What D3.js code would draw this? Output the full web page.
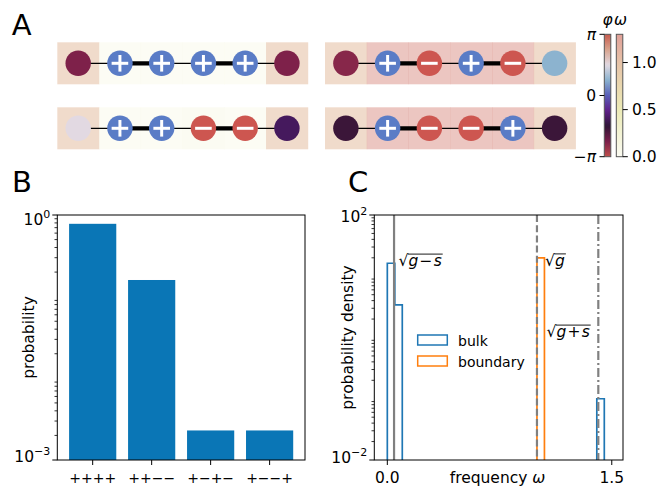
<!DOCTYPE html>
<html><head><meta charset="utf-8">
<script src="https://cdn.jsdelivr.net/npm/d3@7"></script>
<style>body{margin:0;background:#fff} svg text{font-family:"DejaVu Sans",sans-serif;fill:#000}</style>
</head><body><svg id="c" width="665" height="487"></svg>
<script>
// ---------------- DATA ----------------
const chainSigns = [
  ["+","+","+","+"],
  ["+","−","+","−"],
  ["+","+","−","−"],
  ["+","−","−","+"]
];
const boundaryPhase = [[-2.4,-2.4],[-2.5,0.8],[1.57,-1.2],[-1.7,-1.7]];
const siteOmega = [
  [1.0,0.045,0.045,0.045,0.045,1.0],
  [1.0,1.41,1.41,1.41,1.41,1.0],
  [1.0,0.045,0.045,0.07,0.045,1.0],
  [1.0,1.41,1.41,1.41,1.41,1.0]
];
const bondCoupling = [0.25,1,0.25,1,0.25];
const phaseTicks = [-Math.PI,0,Math.PI];
const phaseTickLabels = ["−π","0","π"];
const omegaTicks = [0,0.5,1.0];
const omegaTickLabels = ["0.0","0.5","1.0"];

const configLabels = ["++++","++−−","+−+−","+−−+"];
const configProb = [0.78,0.16,0.0023,0.0023];

const bulkBins = [[0,0.05,16.3],[0.05,0.1,3.4],[1.40,1.45,0.1]];
const boundaryBins = [[1.0,1.05,20]];
const refFreq = [0.045,1.0,1.41];
const freqTicks = [0,1.5];
const freqTickLabels = ["0.0","1.5"];

// ---------------- SETUP ----------------
const svg = d3.select("#c");
const FS = 15.5;

const phaseStopsV = [-1,-0.75,-0.5,-0.25,0,0.25,0.5,0.75,1].map(v=>v*Math.PI);
const phaseStopsC = ["#bf4f4b","#7a1e4a","#2f1436","#5e1f88","#5a5fb8","#8ab2cf","#e2d9e2","#d8a48e","#c65a4c"];
const phaseColor = d3.scaleLinear().domain(phaseStopsV).range(phaseStopsC).interpolate(d3.interpolateRgb);
const omegaColor = d3.scaleLinear().domain([0,0.5,1.0,1.3]).range(["#fbfbf2","#ecebb6","#e6c3a8","#e0a098"]).clamp(true);
const bondW = d3.scaleLinear().domain([0.25,1]).range([1.3,4.3]);

// panel letters
[["A",11.7,35],["B",12,191.7],["C",348,191.7]].forEach(([t,x,y])=>{
  svg.append("text").attr("x",x).attr("y",y).text(t).style("font-size","29px");
});

// ---------------- PANEL A ----------------
const chainLayout = [{x:57.3,y:42.3},{x:325,y:42.3},{x:57.3,y:107.3},{x:325,y:107.3}];
const chainW = 250.5, chainH = 42, R = 12.7;
chainLayout.forEach((p,ci)=>{
  const xs = d3.scaleBand().domain(d3.range(6)).range([p.x,p.x+chainW]);
  const bw = xs.bandwidth();
  const g = svg.append("g");
  g.selectAll("rect").data(siteOmega[ci]).join("rect")
    .attr("x",(d,i)=>xs(i)).attr("y",p.y).attr("width",bw+0.4).attr("height",chainH)
    .attr("fill",d=>omegaColor(d)).attr("fill-opacity",0.6);
  const cy = p.y+chainH/2;
  g.selectAll("line.bond").data(bondCoupling).join("line").attr("class","bond")
    .attr("x1",(d,i)=>xs(i)+bw/2).attr("x2",(d,i)=>xs(i+1)+bw/2)
    .attr("y1",cy).attr("y2",cy).attr("stroke","#000").attr("stroke-width",d=>bondW(d));
  const sites = [{b:true,ph:boundaryPhase[ci][0]}]
    .concat(chainSigns[ci].map(s=>({b:false,s:s})))
    .concat([{b:true,ph:boundaryPhase[ci][1]}]);
  const sg = g.selectAll("g.site").data(sites).join("g").attr("class","site")
    .attr("transform",(d,i)=>`translate(${xs(i)+bw/2},${cy})`);
  sg.append("circle").attr("r",R)
    .attr("fill",d=>d.b?phaseColor(d.ph):(d.s==="+"?"#5a7cc6":"#cd5650"));
  const L = 8.3;
  sg.filter(d=>!d.b).append("line").attr("x1",-L).attr("x2",L).attr("y1",0).attr("y2",0)
    .attr("stroke","#fff").attr("stroke-width",3);
  sg.filter(d=>!d.b && d.s==="+").append("line").attr("x1",0).attr("x2",0).attr("y1",-L).attr("y2",L)
    .attr("stroke","#fff").attr("stroke-width",3);
});

// colorbars
const defs = svg.append("defs");
function gradient(id, scale, domain){
  const lg = defs.append("linearGradient").attr("id",id).attr("x1",0).attr("y1",1).attr("x2",0).attr("y2",0);
  d3.range(0,1.0001,0.02).forEach(t=>{
    lg.append("stop").attr("offset",t).attr("stop-color",scale(domain[0]+t*(domain[1]-domain[0])));
  });
}
const cbTop = 34.3, cbBot = 156.7;
gradient("gphi",phaseColor,[-Math.PI,Math.PI]);
gradient("gom",omegaColor,[0,1.3]);
const phiY = d3.scaleLinear().domain([-Math.PI,Math.PI]).range([cbBot,cbTop]);
const omY = d3.scaleLinear().domain([0,1.3]).range([cbBot,cbTop]);
const cb = svg.append("g");
cb.append("rect").attr("x",604.3).attr("y",cbTop).attr("width",6.5).attr("height",cbBot-cbTop)
  .attr("fill","url(#gphi)").attr("stroke","#555").attr("stroke-width",1);
cb.append("rect").attr("x",616.3).attr("y",cbTop).attr("width",6.5).attr("height",cbBot-cbTop)
  .attr("fill","url(#gom)").attr("stroke","#555").attr("stroke-width",1);
cb.selectAll("line.pt").data(phaseTicks).join("line").attr("class","pt")
  .attr("x1",599.5).attr("x2",604.3).attr("y1",d=>phiY(d)).attr("y2",d=>phiY(d)).attr("stroke","#000").attr("stroke-width",1);
cb.selectAll("text.pt").data(phaseTicks).join("text").attr("class","pt")
  .attr("x",596).attr("y",d=>phiY(d)).attr("dy","0.36em").attr("text-anchor","end")
  .style("font-size",FS+"px")
  .each(function(d,i){
    const lab = phaseTickLabels[i];
    const t = d3.select(this);
    if(lab.includes("π")){
      if(lab.startsWith("−")) t.append("tspan").text("−");
      t.append("tspan").text("π").style("font-style","italic");
    } else t.text(lab);
  });
cb.selectAll("line.ot").data(omegaTicks).join("line").attr("class","ot")
  .attr("x1",622.8).attr("x2",627.8).attr("y1",d=>omY(d)).attr("y2",d=>omY(d)).attr("stroke","#000").attr("stroke-width",1);
cb.selectAll("text.ot").data(omegaTicks).join("text").attr("class","ot")
  .attr("x",632).attr("y",d=>omY(d)).attr("dy","0.36em").style("font-size",FS+"px")
  .text((d,i)=>omegaTickLabels[i]);
cb.append("text").attr("x",607.5).attr("y",25).attr("text-anchor","middle").style("font-size",FS+"px").style("font-style","italic").text("φ");
cb.append("text").attr("x",620.5).attr("y",25).attr("text-anchor","middle").style("font-size",FS+"px").style("font-style","italic").text("ω");

// ---------------- helpers ----------------
function logTickLabel(sel, exp){
  sel.append("tspan").text("10");
  sel.append("tspan").attr("dy",-7).style("font-size","11px").text(exp<0?"−"+(-exp):String(exp));
}
function logAxis(g, y, x0, decades, labeled, offs){
  const minors=[];
  decades.forEach(k=>{ for(let s=2;s<=9;s++) minors.push(s*Math.pow(10,k)); });
  g.selectAll("line.mn").data(minors.filter(v=>y(v)>=y.range()[1]-0.1 && y(v)<=y.range()[0]+0.1)).join("line").attr("class","mn")
    .attr("x1",x0-2.8).attr("x2",x0).attr("y1",d=>y(d)).attr("y2",d=>y(d)).attr("stroke","#000").attr("stroke-width",0.8);
  g.selectAll("line.mj").data(labeled).join("line").attr("class","mj")
    .attr("x1",x0-5).attr("x2",x0).attr("y1",d=>y(d)).attr("y2",d=>y(d)).attr("stroke","#000").attr("stroke-width",1);
  g.selectAll("text.mj").data(labeled).join("text").attr("class","mj")
    .attr("x",x0-7).attr("y",(d,i)=>y(d)+offs[i]).attr("text-anchor","end").style("font-size",FS+"px")
    .each(function(d){ logTickLabel(d3.select(this), Math.round(Math.log10(d))); });
}

// ---------------- PANEL B ----------------
const B = {x0:57.3,x1:305,y0:215,y1:460};
const xB = d3.scaleBand().domain(configLabels).range([B.x0,B.x1]).paddingInner(0.2).paddingOuter(0.2);
const yB = d3.scaleLog().domain([1e-3,1]).range([B.y1,B.y0]);
const gB = svg.append("g");
gB.selectAll("rect.bar").data(configProb).join("rect").attr("class","bar")
  .attr("x",(d,i)=>xB(configLabels[i])).attr("width",xB.bandwidth())
  .attr("y",d=>yB(d)).attr("height",d=>B.y1-yB(d)).attr("fill","#0a76b6");
gB.append("rect").attr("x",B.x0).attr("y",B.y0).attr("width",B.x1-B.x0).attr("height",B.y1-B.y0)
  .attr("fill","none").attr("stroke","#000").attr("stroke-width",1);
logAxis(gB, yB, B.x0, [-3,-2,-1], [1e-3,1], [2,10]);
gB.selectAll("line.xt").data(configLabels).join("line").attr("class","xt")
  .attr("x1",d=>xB(d)+xB.bandwidth()/2).attr("x2",d=>xB(d)+xB.bandwidth()/2)
  .attr("y1",B.y1).attr("y2",B.y1+5).attr("stroke","#000").attr("stroke-width",1);
gB.selectAll("text.xt").data(configLabels).join("text").attr("class","xt")
  .attr("x",d=>xB(d)+xB.bandwidth()/2).attr("y",483).attr("text-anchor","middle")
  .style("font-size","14px").text(d=>d);
gB.append("text").attr("transform",`translate(34,337.5) rotate(-90)`).attr("text-anchor","middle")
  .style("font-size",FS+"px").text("probability");

// ---------------- PANEL C ----------------
const C = {x0:374.3,x1:623,y0:215,y1:460};
const xC = d3.scaleLinear().domain([-0.087,1.575]).range([C.x0,C.x1]);
const yC = d3.scaleLog().domain([1e-2,1e2]).range([C.y1,C.y0]);
const gC = svg.append("g");
defs.append("clipPath").attr("id","clipC").append("rect")
  .attr("x",C.x0).attr("y",C.y0).attr("width",C.x1-C.x0).attr("height",C.y1-C.y0);
const plotC = gC.append("g").attr("clip-path","url(#clipC)");
function stepPath(bins){
  let d="", prevEnd=null;
  bins.forEach(([a,b,v])=>{
    if(prevEnd===null || Math.abs(prevEnd-a)>1e-9){
      if(prevEnd!==null) d+=`V${C.y1+3}`;
      d+=`M${xC(a)},${C.y1+3}`;
    }
    d+=`V${yC(v)}H${xC(b)}`;
    prevEnd=b;
  });
  d+=`V${C.y1+3}`;
  return d;
}
plotC.append("path").attr("d",stepPath(bulkBins)).attr("fill","none").attr("stroke","#1f77b4").attr("stroke-width",1.7);
plotC.append("path").attr("d",stepPath(boundaryBins)).attr("fill","none").attr("stroke","#ff7f0e").attr("stroke-width",1.7);
const refDash = [null,"7,3.2","9,3,2,3"];
plotC.selectAll("line.ref").data(refFreq).join("line").attr("class","ref")
  .attr("x1",d=>xC(d)).attr("x2",d=>xC(d)).attr("y1",C.y0).attr("y2",C.y1)
  .attr("stroke","#808080").attr("stroke-width",2.2)
  .attr("stroke-dasharray",(d,i)=>refDash[i]);
gC.append("rect").attr("x",C.x0).attr("y",C.y0).attr("width",C.x1-C.x0).attr("height",C.y1-C.y0)
  .attr("fill","none").attr("stroke","#000").attr("stroke-width",1);
logAxis(gC, yC, C.x0, [-2,-1,0,1], [1e-2,1e2], [3,7]);
gC.selectAll("line.xt").data(freqTicks).join("line").attr("class","xt")
  .attr("x1",d=>xC(d)).attr("x2",d=>xC(d)).attr("y1",C.y1).attr("y2",C.y1+5).attr("stroke","#000").attr("stroke-width",1);
gC.selectAll("text.xt").data(freqTicks).join("text").attr("class","xt")
  .attr("x",d=>xC(d)).attr("y",483).attr("text-anchor","middle").style("font-size",FS+"px")
  .text((d,i)=>freqTickLabels[i]);
const xl = gC.append("text").attr("x",497.5).attr("y",483).attr("text-anchor","middle").style("font-size",FS+"px");
xl.append("tspan").text("frequency ");
xl.append("tspan").style("font-style","italic").text("ω");
gC.append("text").attr("transform",`translate(352.5,337.5) rotate(-90)`).attr("text-anchor","middle")
  .style("font-size",FS+"px").text("probability density");

function sqrtLabel(x, y, parts){
  const g = gC.append("g");
  const rad = g.append("text").attr("x",x).attr("y",y).style("font-size",FS+"px").text("√");
  const rw = rad.node().getComputedTextLength();
  const t = g.append("text").attr("x",x+rw).attr("y",y).style("font-size",FS+"px");
  parts.forEach(p=>t.append("tspan").attr("dx",p.dx||0).style("font-style",p.it?"italic":"normal").text(p.t));
  const tw = t.node().getBBox().width;
  g.append("line").attr("x1",x+rw-0.6).attr("x2",x+rw+tw+1).attr("y1",y-11.6).attr("y2",y-11.6)
    .attr("stroke","#000").attr("stroke-width",0.9);
}
sqrtLabel(398.5,265.7,[{t:"g",it:true},{t:"−",dx:1.2},{t:"s",it:true,dx:1.2}]);
sqrtLabel(545,265.5,[{t:"g",it:true}]);
sqrtLabel(546.5,336.7,[{t:"g",it:true},{t:"+",dx:1.2},{t:"s",it:true,dx:1.2}]);

// legend
const legItems = [{name:"bulk",color:"#1f77b4"},{name:"boundary",color:"#ff7f0e"}];
const lg = gC.selectAll("g.leg").data(legItems).join("g").attr("class","leg")
  .attr("transform",(d,i)=>`translate(417.7,${335+i*21})`);
lg.append("rect").attr("width",29.6).attr("height",10).attr("fill","none")
  .attr("stroke",d=>d.color).attr("stroke-width",1.5);
lg.append("text").attr("x",40.3).attr("y",11.3).style("font-size","14px").text(d=>d.name);
</script></body></html>
